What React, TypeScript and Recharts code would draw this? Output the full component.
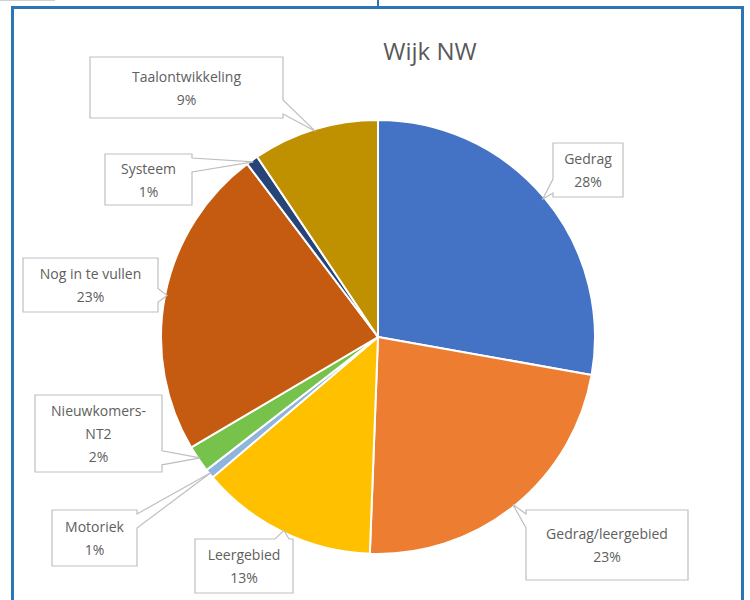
import { PieChart, Pie, Cell } from 'recharts';

const categories = [
  'Gedrag',
  'Gedrag/leergebied',
  'Leergebied',
  'Motoriek',
  'Nieuwkomers-NT2',
  'Nog in te vullen',
  'Systeem',
  'Taalontwikkeling',
];
const shares = [27.8, 22.8, 13.2, 0.7, 2.0, 23.2, 0.9, 9.4];
const colors = ['#4472C4', '#ED7D31', '#FFC000', '#8FB4DE', '#76C24A', '#C55A11', '#264478', '#BF9000'];

const data = categories.map((name, i) => ({ name, value: shares[i] }));

// callout boxes, placed the way Excel's best fit put them
const boxes: Record<string, { x: number; y: number; w: number; h: number; wrap?: boolean }> = {
  Gedrag: { x: 553, y: 143, w: 70, h: 54 },
  'Gedrag/leergebied': { x: 526, y: 510, w: 162, h: 70 },
  Leergebied: { x: 195, y: 539, w: 98, h: 54 },
  Motoriek: { x: 52, y: 510, w: 85, h: 56 },
  'Nieuwkomers-NT2': { x: 35, y: 395, w: 127, h: 77, wrap: true },
  'Nog in te vullen': { x: 23, y: 258, w: 135, h: 54 },
  Systeem: { x: 105, y: 154, w: 87, h: 51 },
  Taalontwikkeling: { x: 90, y: 57, w: 193, h: 61 },
};

const RAD = Math.PI / 180;
const clamp = (v: number, a: number, b: number) => Math.max(a, Math.min(b, v));

function calloutPath(b: { x: number; y: number; w: number; h: number }, px: number, py: number) {
  const x0 = b.x, y0 = b.y, x1 = b.x + b.w, y1 = b.y + b.h;
  const half = 7;
  if (px > x1) {
    const c = clamp(py, y0 + half + 4, y1 - half - 4);
    return `M${x0},${y0} L${x1},${y0} L${x1},${c - half} L${px},${py} L${x1},${c + half} L${x1},${y1} L${x0},${y1} Z`;
  }
  if (px < x0) {
    const c = clamp(py, y0 + half + 4, y1 - half - 4);
    return `M${x0},${y0} L${x1},${y0} L${x1},${y1} L${x0},${y1} L${x0},${c + half} L${px},${py} L${x0},${c - half} Z`;
  }
  if (py < y0) {
    const c = clamp(px, x0 + half + 4, x1 - half - 4);
    return `M${x0},${y0} L${c - half},${y0} L${px},${py} L${c + half},${y0} L${x1},${y0} L${x1},${y1} L${x0},${y1} Z`;
  }
  const c = clamp(px, x0 + half + 4, x1 - half - 4);
  return `M${x0},${y0} L${x1},${y0} L${x1},${y1} L${c + half},${y1} L${px},${py} L${c - half},${y1} L${x0},${y1} Z`;
}

const renderLabel = (props: any) => {
  const { cx, cy, midAngle, outerRadius, name, percent } = props;
  const b = boxes[name];
  if (!b) return null;
  const px = cx + (outerRadius - 2) * Math.cos(-midAngle * RAD);
  const py = cy + (outerRadius - 2) * Math.sin(-midAngle * RAD);
  const lines = b.wrap ? name.replace('-', '-|').split('|') : [name];
  lines.push(`${Math.round(percent * 100)}%`);
  const lh = 23;
  const mid = b.y + b.h / 2;
  return (
    <g>
      <path d={calloutPath(b, px, py)} fill="#FFFFFF" stroke="#BFBFBF" strokeWidth={1.2} />
      {lines.map((t: string, i: number) => (
        <text
          key={i}
          x={b.x + b.w / 2}
          y={mid + (i - (lines.length - 1) / 2) * lh}
          textAnchor="middle"
          dominantBaseline="central"
          fill="#606060"
          fontSize={14}
          fontFamily="'Open Sans', sans-serif"
        >
          {t}
        </text>
      ))}
    </g>
  );
};

export default function App() {
  return (
    <div style={{ position: 'absolute', left: 0, top: 0, width: 750, height: 600, background: '#FFFFFF', overflow: 'hidden' }}>
      <div style={{ position: 'absolute', left: 0, top: 0, width: 55, height: 1, background: '#D0D0D0' }} />
      <div style={{ position: 'absolute', left: 377, top: 0, width: 2, height: 7, background: '#2E75B6' }} />
      <div
        style={{
          position: 'absolute',
          left: 11,
          top: 6,
          width: 727,
          height: 620,
          border: '3px solid #2E75B6',
          boxSizing: 'content-box',
        }}
      />
      <div style={{ position: 'absolute', left: 0, top: 0 }}>
        <PieChart width={750} height={600} margin={{ top: 0, right: 0, bottom: 0, left: 0 }}>
          <text
            x={430}
            y={50}
            textAnchor="middle"
            dominantBaseline="central"
            fill="#595959"
            fontSize={24}
            fontFamily="'Open Sans', sans-serif"
          >
            Wijk NW
          </text>
          <Pie
            data={data}
            dataKey="value"
            nameKey="name"
            cx={378}
            cy={337}
            outerRadius={217}
            startAngle={90}
            endAngle={-270}
            stroke="#FFFFFF"
            strokeWidth={2}
            label={renderLabel}
            labelLine={false}
            isAnimationActive={false}
          >
            {data.map((d, i) => (
              <Cell key={d.name} fill={colors[i]} />
            ))}
          </Pie>
        </PieChart>
      </div>
    </div>
  );
}
